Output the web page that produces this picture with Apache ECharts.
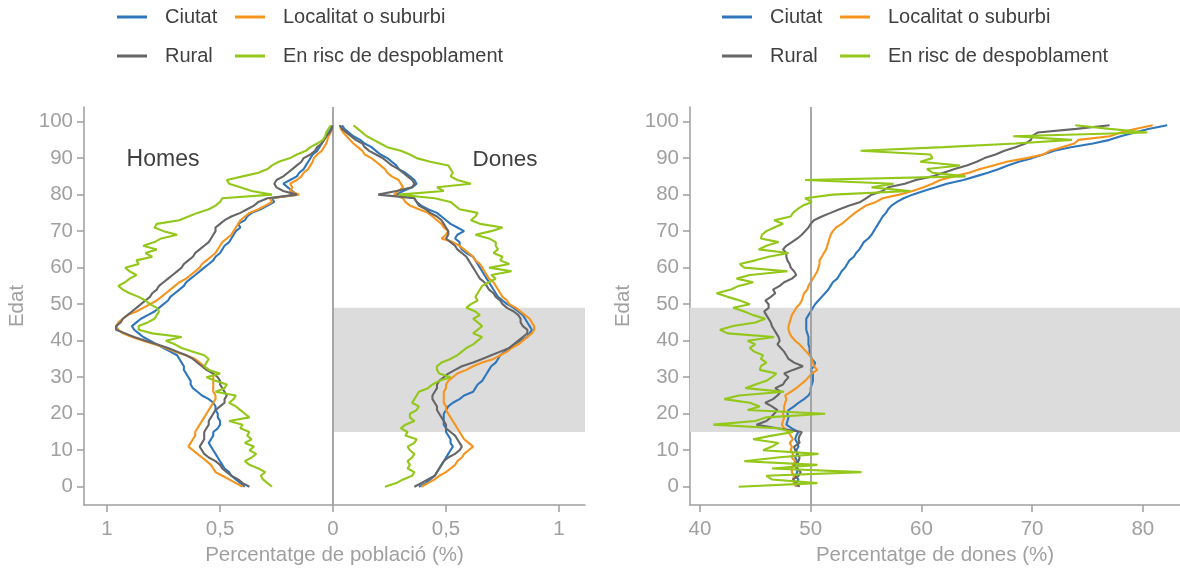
<!DOCTYPE html>
<html><head><meta charset="utf-8">
<script src="https://cdn.jsdelivr.net/npm/echarts@6/dist/echarts.min.js"></script>
<style>html,body{margin:0;padding:0;background:#fff}#c{width:1180px;height:569px}</style>
</head><body><div id="c"></div>
<script>
const categories = ['Ciutat', 'Localitat o suburbi', 'Rural', 'En risc de despoblament'];
const colors = ['#2f76bd', '#f7941d', '#666666', '#93c71a'];
const ageTicks = [0, 10, 20, 30, 40, 50, 60, 70, 80, 90, 100];
const popTicks = [-1, -0.5, 0, 0.5, 1];
const femTicks = [40, 50, 60, 70, 80];
const fertileAges = [15, 49];
const ages = Array.from({length: 100}, (_, i) => i);

// Percentatge de població (%) - Homes
const homesCiutat = [0.39,0.41,0.43,0.45,0.46,0.48,0.49,0.50,0.51,0.52,
0.53,0.54,0.55,0.54,0.53,0.53,0.51,0.50,0.50,0.51,
0.51,0.52,0.52,0.53,0.55,0.58,0.60,0.62,0.63,0.63,
0.64,0.65,0.66,0.66,0.67,0.68,0.69,0.72,0.75,0.78,
0.81,0.84,0.86,0.88,0.89,0.87,0.85,0.82,0.79,0.77,
0.75,0.73,0.72,0.70,0.68,0.66,0.65,0.63,0.61,0.59,
0.57,0.55,0.53,0.52,0.50,0.49,0.48,0.46,0.45,0.44,
0.43,0.41,0.42,0.39,0.38,0.36,0.32,0.29,0.26,0.27,
0.16,0.18,0.20,0.22,0.19,0.16,0.15,0.13,0.12,0.11,
0.10,0.09,0.07,0.06,0.05,0.04,0.03,0.02,0.01,0.005];
const homesLocalitat = [0.40,0.43,0.46,0.49,0.52,0.53,0.54,0.56,0.58,0.60,
0.62,0.64,0.63,0.62,0.61,0.61,0.60,0.59,0.58,0.57,
0.56,0.55,0.54,0.53,0.52,0.52,0.53,0.53,0.53,0.53,
0.53,0.53,0.55,0.57,0.59,0.61,0.65,0.70,0.74,0.79,
0.84,0.89,0.93,0.95,0.96,0.95,0.93,0.91,0.87,0.84,
0.81,0.78,0.76,0.74,0.72,0.70,0.68,0.65,0.63,0.61,
0.59,0.58,0.56,0.54,0.52,0.51,0.50,0.49,0.47,0.45,
0.44,0.43,0.42,0.41,0.39,0.37,0.33,0.30,0.27,0.28,
0.15,0.19,0.18,0.19,0.16,0.14,0.13,0.11,0.10,0.09,
0.085,0.07,0.05,0.04,0.03,0.025,0.02,0.01,0.005,0.003];
const homesRural = [0.37,0.40,0.42,0.45,0.47,0.49,0.50,0.52,0.55,0.57,
0.58,0.59,0.58,0.57,0.57,0.57,0.56,0.55,0.55,0.54,
0.53,0.52,0.50,0.48,0.48,0.47,0.48,0.49,0.50,0.50,
0.51,0.53,0.56,0.58,0.60,0.62,0.65,0.69,0.73,0.78,
0.83,0.88,0.92,0.96,0.96,0.94,0.93,0.91,0.89,0.87,
0.85,0.83,0.81,0.80,0.78,0.77,0.75,0.73,0.71,0.69,
0.67,0.66,0.64,0.62,0.61,0.59,0.57,0.55,0.54,0.53,
0.52,0.52,0.50,0.48,0.45,0.41,0.38,0.35,0.33,0.29,
0.16,0.22,0.25,0.26,0.25,0.22,0.20,0.18,0.16,0.14,
0.13,0.10,0.08,0.07,0.05,0.04,0.03,0.015,0.005,0.003];
const homesRisc = [0.27,0.29,0.31,0.32,0.30,0.33,0.37,0.39,0.36,0.34,
0.37,0.35,0.39,0.36,0.38,0.37,0.41,0.40,0.46,0.37,
0.39,0.41,0.43,0.46,0.44,0.43,0.52,0.48,0.47,0.52,
0.56,0.50,0.55,0.57,0.56,0.55,0.57,0.62,0.67,0.70,
0.74,0.67,0.80,0.86,0.86,0.82,0.79,0.78,0.77,0.78,
0.81,0.83,0.86,0.90,0.93,0.95,0.92,0.90,0.87,0.90,
0.92,0.86,0.87,0.80,0.83,0.78,0.84,0.79,0.76,0.69,
0.75,0.79,0.78,0.68,0.64,0.60,0.55,0.52,0.50,0.49,
0.27,0.36,0.41,0.46,0.47,0.40,0.33,0.29,0.27,0.24,
0.19,0.16,0.12,0.10,0.07,0.045,0.035,0.03,0.02,0.01];

// Percentatge de població (%) - Dones
const donesCiutat = [0.38,0.41,0.43,0.45,0.46,0.47,0.48,0.49,0.50,0.51,
0.52,0.53,0.52,0.52,0.51,0.50,0.50,0.49,0.49,0.49,
0.49,0.50,0.51,0.53,0.56,0.58,0.62,0.63,0.64,0.66,
0.67,0.68,0.69,0.70,0.72,0.73,0.74,0.76,0.78,0.80,
0.83,0.86,0.87,0.88,0.87,0.86,0.85,0.84,0.82,0.80,
0.77,0.75,0.73,0.72,0.71,0.70,0.69,0.68,0.67,0.66,
0.65,0.64,0.63,0.62,0.59,0.57,0.56,0.56,0.54,0.55,
0.58,0.55,0.52,0.50,0.48,0.46,0.42,0.39,0.37,0.36,
0.28,0.31,0.35,0.37,0.36,0.34,0.32,0.29,0.28,0.26,
0.24,0.21,0.19,0.17,0.14,0.12,0.09,0.07,0.05,0.04];
const donesLocalitat = [0.39,0.42,0.45,0.47,0.50,0.52,0.54,0.55,0.57,0.58,
0.60,0.62,0.60,0.58,0.57,0.56,0.55,0.54,0.53,0.52,
0.51,0.50,0.50,0.49,0.49,0.49,0.49,0.50,0.50,0.51,
0.53,0.55,0.59,0.62,0.66,0.71,0.74,0.77,0.79,0.82,
0.84,0.86,0.88,0.89,0.89,0.88,0.87,0.85,0.83,0.81,
0.78,0.77,0.75,0.74,0.73,0.72,0.71,0.69,0.68,0.67,
0.66,0.65,0.63,0.62,0.60,0.58,0.56,0.53,0.48,0.50,
0.51,0.49,0.48,0.46,0.44,0.42,0.38,0.34,0.32,0.31,
0.27,0.29,0.31,0.30,0.29,0.26,0.24,0.23,0.21,0.19,
0.17,0.14,0.13,0.11,0.09,0.075,0.06,0.045,0.035,0.03];
const donesRural = [0.36,0.39,0.42,0.45,0.46,0.47,0.48,0.49,0.51,0.54,
0.56,0.57,0.56,0.55,0.54,0.52,0.50,0.50,0.49,0.48,
0.47,0.46,0.46,0.45,0.44,0.44,0.45,0.46,0.46,0.47,
0.49,0.51,0.54,0.57,0.62,0.66,0.70,0.74,0.78,0.80,
0.82,0.84,0.86,0.86,0.84,0.83,0.83,0.82,0.80,0.77,
0.75,0.74,0.72,0.71,0.69,0.68,0.67,0.65,0.64,0.63,
0.62,0.61,0.60,0.59,0.57,0.55,0.54,0.52,0.50,0.51,
0.51,0.50,0.49,0.48,0.46,0.43,0.41,0.38,0.37,0.36,
0.20,0.28,0.35,0.36,0.35,0.33,0.31,0.29,0.26,0.24,
0.22,0.19,0.16,0.14,0.13,0.10,0.08,0.06,0.04,0.03];
const donesRisc = [0.23,0.28,0.31,0.35,0.36,0.33,0.34,0.33,0.35,0.36,
0.34,0.33,0.36,0.37,0.32,0.33,0.30,0.32,0.36,0.34,
0.34,0.37,0.38,0.35,0.36,0.37,0.38,0.42,0.44,0.47,
0.52,0.47,0.46,0.46,0.48,0.52,0.55,0.57,0.59,0.62,
0.64,0.66,0.62,0.64,0.66,0.64,0.62,0.65,0.63,0.59,
0.61,0.64,0.63,0.64,0.65,0.66,0.69,0.72,0.70,0.79,
0.69,0.78,0.74,0.75,0.71,0.73,0.72,0.72,0.69,0.63,
0.70,0.75,0.65,0.61,0.63,0.64,0.56,0.54,0.52,0.45,
0.29,0.49,0.46,0.61,0.55,0.52,0.53,0.52,0.51,0.43,
0.37,0.34,0.30,0.24,0.21,0.18,0.15,0.13,0.11,0.09];

// Percentatge de dones (%)
const femCiutat = [48.8,48.7,48.9,48.6,48.8,48.7,48.9,48.8,48.6,48.8,
48.7,48.9,48.8,48.6,48.7,48.9,48.3,47.8,47.9,48.0,
47.9,48.0,48.5,48.9,49.4,49.8,50.0,50.0,50.1,50.2,
50.2,50.2,50.0,50.3,50.4,50.1,50.0,49.9,49.9,49.8,
49.8,49.8,49.7,49.6,49.6,49.6,49.6,49.8,50.0,50.2,
50.4,50.7,51.0,51.3,51.6,51.8,52.0,52.4,52.6,52.8,
53.1,53.3,53.5,53.9,54.1,54.4,54.6,54.8,55.2,55.5,
55.7,55.9,56.1,56.3,56.5,56.8,57.0,57.3,57.8,58.4,
59.2,60.2,61.3,62.3,63.8,64.9,66.0,67.0,67.8,68.8,
70.0,71.0,72.0,73.5,75.5,77.0,78.0,79.3,80.5,82.2];
const femLocalitat = [48.7,48.5,48.4,48.5,48.3,48.3,48.4,48.6,48.3,48.4,
48.2,48.3,48.1,48.4,48.2,48.0,47.6,47.4,47.5,47.6,
47.5,47.6,47.6,47.7,47.8,47.7,48.2,48.7,49.1,49.5,
49.8,50.1,50.6,50.3,50.2,50.1,49.9,49.6,49.3,49.0,
48.6,48.3,48.1,48.0,48.0,48.1,48.2,48.3,48.5,48.7,
49.0,49.2,49.3,49.4,49.7,49.8,50.0,50.2,50.4,50.6,
50.7,50.8,50.8,51.0,51.2,51.4,51.5,51.6,51.7,51.8,
52.0,52.3,52.8,53.2,53.6,54.0,54.5,55.0,55.9,56.5,
58.0,59.2,60.2,61.0,61.7,62.9,64.3,65.3,66.5,67.7,
69.5,71.0,71.6,72.7,73.8,74.2,77.0,78.0,79.3,80.9];
const femRural = [49.0,48.7,48.4,48.9,49.1,48.8,48.5,48.9,49.0,48.8,
48.6,48.5,49.0,48.9,49.0,49.2,47.0,45.1,46.0,46.4,
46.7,47.0,46.5,45.9,46.6,47.0,47.3,46.8,47.5,47.7,
48.0,47.6,48.4,49.3,48.5,48.0,47.8,47.6,47.3,47.0,
47.2,47.1,46.9,46.7,46.5,46.4,46.2,46.0,45.8,46.2,
46.2,45.9,46.4,46.8,46.6,47.2,47.6,48.3,48.7,48.5,
48.2,48.1,47.9,47.8,47.8,47.5,47.8,48.3,48.8,49.2,
49.5,49.8,50.0,50.3,51.0,51.8,52.6,53.5,54.5,55.0,
55.5,56.5,57.0,58.5,59.5,61.0,62.0,63.0,64.1,65.0,
65.7,66.7,67.5,68.5,69.4,69.9,70.0,70.5,74.0,77.0];
const femRisc = [43.5,50.6,46.5,46.0,54.6,46.5,50.6,44.0,47.0,50.7,
45.7,46.5,47.1,44.8,46.5,48.4,47.0,41.2,45.0,46.0,
51.3,44.3,45.4,44.5,42.2,43.5,47.6,44.1,45.0,46.0,
46.5,46.9,45.4,45.5,46.0,45.5,45.7,44.9,44.5,45.0,
44.3,46.7,42.5,41.8,43.0,45.0,45.9,44.8,44.0,43.0,
44.5,43.6,42.5,41.5,42.8,43.5,44.8,43.3,44.5,47.9,
44.0,43.6,45.0,46.2,48.0,45.3,46.0,47.1,45.5,45.6,
46.0,46.7,47.5,46.7,48.2,48.4,48.8,49.3,50.1,49.5,
52.0,59.0,55.5,57.5,49.5,64.0,61.0,60.5,63.5,59.9,
61.0,60.8,54.5,62.0,68.5,73.6,68.3,80.4,77.0,73.9];

const homes = [homesCiutat, homesLocalitat, homesRural, homesRisc];
const dones = [donesCiutat, donesLocalitat, donesRural, donesRisc];
const fem = [femCiutat, femLocalitat, femRural, femRisc];

const FONT = 'Liberation Sans, Arial, sans-serif';
const AX = '#9e9e9e';
const TXT = '#a0a0a0';
const popRange = [-1.102, 1.115];
const femRange = [39.1, 83.36];
const ageRange = [-5, 104];

function xAx(idx, range, ticks, name, fmt) {
  return {
    type: 'value', gridIndex: idx, min: range[0], max: range[1],
    name: name, nameLocation: 'middle', nameGap: 31,
    nameTextStyle: {color: TXT, fontSize: 20.5, fontFamily: FONT},
    axisLine: {show: true, onZero: false, lineStyle: {color: AX, width: 1.5}},
    axisTick: {show: true, length: 7, customValues: ticks, lineStyle: {color: AX, width: 1.5}},
    axisLabel: {customValues: ticks, color: TXT, fontSize: 20.5, fontFamily: FONT, margin: 14, formatter: fmt},
    splitLine: {show: false}
  };
}
function yAx(idx) {
  return {
    type: 'value', gridIndex: idx, min: ageRange[0], max: ageRange[1],
    name: 'Edat', nameLocation: 'middle', nameGap: 56,
    nameTextStyle: {color: TXT, fontSize: 20.5, fontFamily: FONT},
    axisLine: {show: true, onZero: false, lineStyle: {color: AX, width: 1.5}},
    axisTick: {show: true, length: 7, customValues: ageTicks, lineStyle: {color: AX, width: 1.5}},
    axisLabel: {customValues: ageTicks, color: TXT, fontSize: 20.5, fontFamily: FONT, margin: 11},
    splitLine: {show: false}
  };
}

const series = [];
// bands and reference lines
series.push({type: 'line', xAxisIndex: 0, yAxisIndex: 0, data: [], z: 1, silent: true,
  markArea: {silent: true, itemStyle: {color: '#dcdcdc'}, data: [[{coord: [0, fertileAges[0]]}, {coord: [popRange[1], fertileAges[1]]}]]},
  markLine: {silent: true, symbol: 'none', label: {show: false}, lineStyle: {color: AX, width: 1.8, type: 'solid'}, data: [{xAxis: 0}]}});
series.push({type: 'line', xAxisIndex: 1, yAxisIndex: 1, data: [], z: 1, silent: true,
  markArea: {silent: true, itemStyle: {color: '#dcdcdc'}, data: [[{coord: [femRange[0], fertileAges[0]]}, {coord: [femRange[1], fertileAges[1]]}]]},
  markLine: {silent: true, symbol: 'none', label: {show: false}, lineStyle: {color: AX, width: 1.8, type: 'solid'}, data: [{xAxis: 50}]}});

categories.forEach((cat, k) => {
  const base = {type: 'line', name: cat, showSymbol: false, symbol: 'none', z: 3 + k,
    lineStyle: {color: colors[k], width: 2.1}, itemStyle: {color: colors[k]}};
  series.push(Object.assign({}, base, {xAxisIndex: 0, yAxisIndex: 0, data: ages.map(a => [-homes[k][a], a])}));
  series.push(Object.assign({}, base, {xAxisIndex: 0, yAxisIndex: 0, data: ages.map(a => [dones[k][a], a])}));
  series.push(Object.assign({}, base, {xAxisIndex: 1, yAxisIndex: 1, data: ages.map(a => [fem[k][a], a])}));
});

const legendPos = [
  [[117, 6], [235, 6], [117, 45], [235, 45]],
  [[722, 6], [840, 6], [722, 45], [840, 45]]
];
const legends = [];
legendPos.forEach(panel => panel.forEach((p, k) => {
  legends.push({left: p[0], top: p[1], padding: 0, data: [categories[k]], icon: 'rect',
    itemWidth: 30, itemHeight: 3, selectedMode: false,
    textStyle: {color: '#404040', fontSize: 20, fontFamily: FONT, padding: [0, 0, 0, 13], lineHeight: 22}});
}));

const chart = echarts.init(document.getElementById('c'));
chart.setOption({
  animation: false,
  backgroundColor: '#fff',
  grid: [
    {left: 84, top: 107, width: 501, height: 398, containLabel: false, outerBoundsMode: 'none'},
    {left: 690, top: 107, width: 490, height: 398, containLabel: false, outerBoundsMode: 'none'}
  ],
  xAxis: [
    xAx(0, popRange, popTicks, 'Percentatge de població (%)', v => String(Math.abs(v)).replace('.', ',')),
    xAx(1, femRange, femTicks, 'Percentatge de dones (%)', v => String(v))
  ],
  yAxis: [yAx(0), yAx(1)],
  legend: legends,
  graphic: [
    {type: 'text', x: 163, y: 160, style: {text: 'Homes', fill: '#404040', font: '23px ' + FONT, align: 'center', verticalAlign: 'middle'}},
    {type: 'text', x: 505, y: 160, style: {text: 'Dones', fill: '#404040', font: '22.5px ' + FONT, align: 'center', verticalAlign: 'middle'}}
  ],
  series: series
});
</script>
</body></html>
